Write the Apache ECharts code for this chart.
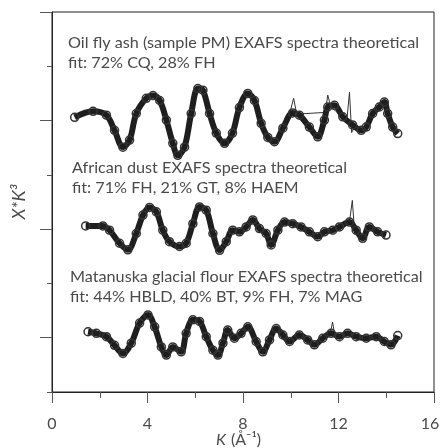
<!DOCTYPE html>
<html>
<head>
<meta charset="utf-8">
<script src="https://cdn.jsdelivr.net/npm/echarts@6/dist/echarts.min.js"></script>
<style>
  html, body { margin: 0; padding: 0; background: #fff; }
  #main { width: 441px; height: 448px; }
</style>
</head>
<body>
<div id="main"></div>
<script>
// k (1/Å) and chi*k^3, one tick = 1 unit
var oilK = [0.95, 1.72, 2.28, 2.62, 2.97, 3.25, 3.53, 3.95, 4.23, 4.51, 4.79, 5.06, 5.27, 5.55, 5.83, 6.11, 6.32, 6.60, 6.88, 7.23, 7.56, 7.85, 8.20, 8.48, 8.76, 9.04, 9.32, 9.67, 10.08, 10.36, 10.78, 11.13, 11.41, 11.55, 11.83, 12.18, 12.59, 12.95, 13.16, 13.43, 13.71, 13.92, 14.06, 14.27, 14.48];
var oilV = [0.06, 0.17, 0.10, -0.18, -0.49, -0.36, 0.13, 0.41, 0.46, 0.37, 0.01, -0.42, -0.64, -0.49, 0.13, 0.59, 0.56, 0.13, -0.23, -0.42, -0.23, 0.24, 0.50, 0.37, -0.05, -0.31, -0.39, -0.14, 0.14, 0.10, -0.12, -0.30, 0.01, 0.25, 0.28, 0.07, -0.08, -0.18, -0.12, 0.13, 0.25, 0.34, 0.13, -0.12, -0.24];

var dustK = [1.41, 2.13, 2.41, 2.83, 3.18, 3.53, 3.81, 4.09, 4.37, 4.64, 4.92, 5.34, 5.62, 5.90, 6.18, 6.46, 6.74, 7.02, 7.30, 7.57, 7.85, 8.13, 8.41, 8.69, 8.97, 9.18, 9.46, 9.74, 10.08, 10.43, 10.78, 11.13, 11.41, 11.76, 12.04, 12.46, 12.74, 13.01, 13.29, 13.64, 13.99];
var dustV = [0.06, 0.06, -0.02, -0.26, -0.38, -0.08, 0.26, 0.40, 0.32, -0.02, -0.23, -0.32, -0.26, 0.10, 0.41, 0.35, -0.08, -0.39, -0.23, -0.02, -0.05, 0.04, 0.17, 0.01, -0.08, -0.29, -0.02, 0.13, 0.10, 0.04, -0.05, -0.14, -0.05, -0.02, 0.04, 0.13, -0.02, -0.17, 0.04, -0.05, -0.11];

var flourK = [1.51, 1.86, 2.28, 2.62, 2.97, 3.32, 3.67, 4.02, 4.30, 4.58, 4.79, 5.06, 5.41, 5.62, 5.90, 6.18, 6.46, 6.74, 6.95, 7.16, 7.36, 7.64, 7.92, 8.20, 8.55, 8.83, 9.11, 9.39, 9.67, 9.95, 10.36, 10.71, 10.99, 11.34, 11.69, 12.04, 12.38, 12.74, 13.16, 13.58, 13.92, 14.20, 14.48];
var flourV = [0.11, 0.08, 0.02, -0.14, -0.29, -0.10, 0.27, 0.42, 0.20, -0.17, -0.32, -0.17, -0.26, 0.08, 0.33, 0.30, 0.02, -0.23, -0.32, -0.10, 0.14, -0.01, 0.08, 0.20, -0.07, -0.26, -0.04, 0.17, 0.05, -0.07, 0.05, -0.04, -0.13, -0.01, 0.08, 0.02, 0.08, 0.02, -0.01, 0.02, -0.07, -0.13, 0.04];

// thin fit-line glitches that show through the circles
var oilFitK = [9.95, 10.12, 10.25, 11.45, 11.55, 11.68, 12.35, 12.46, 12.55, 12.7];
var oilFitV = [0.12, 0.41, 0.12, 0.15, 0.47, 0.25, 0.0, 0.52, -0.22, -0.1];
var dustFitK = [12.45, 12.58, 12.68];
var dustFitV = [0.10, 0.53, -0.10];
var flourFitK = [11.65, 11.75, 11.85];
var flourFitV = [0.06, 0.29, 0.04];

var xTicks = [0, 4, 8, 12, 16];

var labels = [
  ['Oil fly ash (sample PM) EXAFS spectra theoretical', 'fit: 72% CQ, 28% FH'],
  ['African dust EXAFS spectra theoretical', 'fit: 71% FH, 21% GT, 8% HAEM'],
  ['Matanuska glacial flour EXAFS spectra theoretical', 'fit: 44% HBLD, 40% BT, 9% FH, 7% MAG']
];

function pairs(ks, vs, off) {
    var out = [];
    for (var i = 0; i < ks.length; i++) {
        out.push([ks[i], vs[i] + off]);
    }
    return out;
}

function dataSeries(ks, vs, off) {
    return {
        type: 'line',
        data: pairs(ks, vs, off),
        smooth: 0.35,
        symbol: 'circle',
        symbolSize: 8,
        itemStyle: { color: 'rgba(0,0,0,0)', borderColor: '#333', borderWidth: 1.5 },
        lineStyle: { color: '#1e1e1e', width: 6 },
        z: 3
    };
}

function fitSeries(ks, vs, off) {
    return {
        type: 'line',
        data: pairs(ks, vs, off),
        symbol: 'none',
        lineStyle: { color: '#333', width: 1 },
        z: 2
    };
}

var myChart = echarts.init(document.getElementById('main'));
var textColor = '#4a4a4a';
var font = 'Lato, "Liberation Sans", sans-serif';

function textBlock(lines, left, top) {
    return {
        type: 'text',
        left: left,
        top: top,
        style: {
            text: lines.join('\n'),
            fill: textColor,
            font: '16.2px ' + font,
            lineHeight: 20
        }
    };
}

function plainText(str, x, y, style) {
    return {
        type: 'text',
        x: x,
        y: y,
        style: {
            text: str,
            fill: textColor,
            font: style + '16px ' + font,
            verticalAlign: 'middle'
        }
    };
}

var option = {
    animation: false,
    grid: {
        left: 52, right: 7, top: 12, bottom: 56,
        outerBoundsMode: 'none',
        containLabel: false,
        show: true, borderColor: '#222', borderWidth: 1
    },
    xAxis: {
        type: 'value',
        min: 0, max: 16, interval: 4,
        axisLine: { lineStyle: { color: '#222' } },
        axisTick: { length: 11, lineStyle: { color: '#555' } },
        minorTick: { show: true, splitNumber: 2, length: 6, lineStyle: { color: '#555' } },
        splitLine: { show: false },
        axisLabel: {
            color: textColor, fontSize: 16, fontFamily: font, margin: 24,
            customValues: xTicks,
            formatter: function(v) {
                // keep the last label inside the canvas
                return v === 16 ? '{e|16}' : String(v);
            },
            rich: { e: { padding: [0, 8, 0, 0], color: textColor, fontSize: 16, fontFamily: font } }
        }
    },
    yAxis: [{
        type: 'value',
        min: 0, max: 7, interval: 1,
        axisLine: { show: true, lineStyle: { color: '#222' } },
        axisTick: { show: true, length: 12, customValues: [1, 3, 5, 7], lineStyle: { color: '#555' } },
        axisLabel: { show: false },
        splitLine: { show: false },
        name: 'X*K³',
        nameLocation: 'middle',
        nameRotate: 90,
        nameGap: 24,
        nameTextStyle: { color: textColor, fontSize: 18, fontStyle: 'italic', fontFamily: font }
    }, {
        type: 'value',
        position: 'left',
        min: 0, max: 7, interval: 1,
        axisLine: { show: false },
        axisTick: { show: true, length: 5, customValues: [0, 2, 4, 6], lineStyle: { color: '#555' } },
        axisLabel: { show: false },
        splitLine: { show: false }
    }],
    graphic: [
        textBlock(labels[0], 68, 33),
        textBlock(labels[1], 72, 158),
        textBlock(labels[2], 70, 267),
        // x-axis title, K in italics
        plainText('K', 216, 440, 'italic '),
        plainText('(Å⁻¹)', 231, 440, '')
    ],
    series: [
        fitSeries(oilFitK, oilFitV, 5),
        dataSeries(oilK, oilV, 5),
        fitSeries(dustFitK, dustFitV, 3),
        dataSeries(dustK, dustV, 3),
        fitSeries(flourFitK, flourFitV, 1),
        dataSeries(flourK, flourV, 1)
    ]
};
myChart.setOption(option);
</script>
</body>
</html>
